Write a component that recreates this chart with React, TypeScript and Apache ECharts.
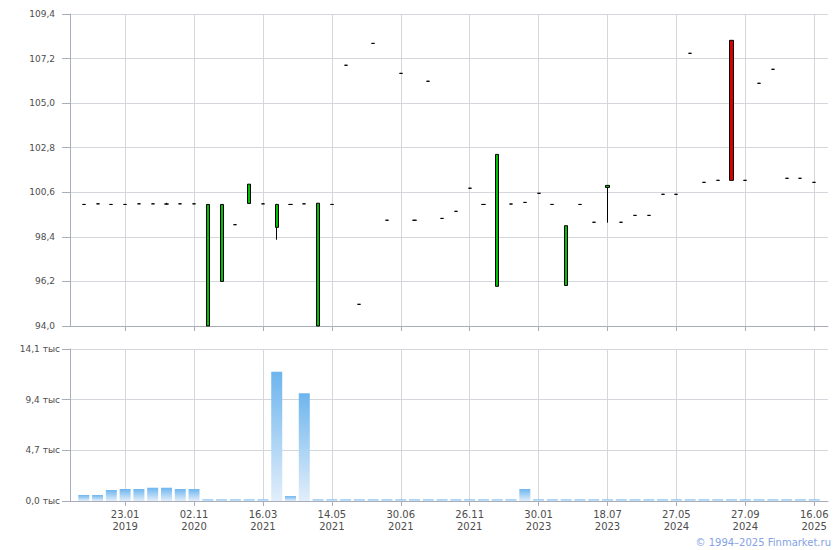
import React, { useEffect, useRef } from 'react';
import * as echarts from 'echarts';

// Tick labels on the date axis (placed every 5th slot, starting with slot 4)
const tickLabels = [
  '23.01\n2019', '02.11\n2020', '16.03\n2021', '14.05\n2021', '30.06\n2021',
  '26.11\n2021', '30.01\n2023', '18.07\n2023', '27.05\n2024', '27.09\n2024', '16.06\n2025',
];

// Price candles (54 periods)
const openP = [
  100.0, 100.03, 100.0, 100.0, 100.03, 100.03, 100.02, 100.03, 100.03, 94.0,
  96.2, 99.0, 100.05, 100.03, 98.87, 100.0, 100.03, 94.0, 100.0, 106.87,
  95.07, 107.95, 99.22, 106.47, 99.22, 106.08, 99.31, 99.66, 100.8, 100.0,
  95.96, 100.02, 100.1, 100.55, 100.0, 96.0, 100.0, 99.12, 100.84, 99.12,
  99.46, 99.46, 100.5, 100.5, 107.46, 101.09, 101.19, 108.1, 101.19, 105.98,
  106.67, 101.29, 101.29, 101.09,
];
const closeP = [
  100.0, 100.03, 100.0, 100.0, 100.03, 100.03, 100.02, 100.03, 100.03, 100.0,
  100.0, 99.0, 101.0, 100.03, 100.0, 100.0, 100.03, 100.06, 100.0, 106.87,
  95.07, 107.95, 99.22, 106.47, 99.22, 106.08, 99.31, 99.66, 100.8, 100.0,
  102.47, 100.02, 100.1, 100.55, 100.0, 98.95, 100.0, 99.12, 100.94, 99.12,
  99.46, 99.46, 100.5, 100.5, 107.46, 101.09, 101.19, 101.19, 101.19, 105.98,
  106.67, 101.29, 101.29, 101.09,
];
const lowP = [
  100.0, 100.03, 100.0, 100.0, 100.03, 100.03, 100.0, 100.03, 100.03, 94.0,
  96.2, 99.0, 100.05, 100.03, 98.26, 100.0, 100.03, 94.0, 100.0, 106.87,
  95.07, 107.95, 99.22, 106.47, 99.22, 106.08, 99.31, 99.66, 100.8, 100.0,
  95.96, 100.02, 100.1, 100.55, 100.0, 96.0, 100.0, 99.12, 99.1, 99.12,
  99.46, 99.46, 100.5, 100.5, 107.46, 101.09, 101.19, 101.19, 101.19, 105.98,
  106.67, 101.29, 101.29, 101.09,
];
const highP = [
  100.0, 100.03, 100.0, 100.0, 100.03, 100.03, 100.08, 100.03, 100.03, 100.0,
  100.0, 99.0, 101.0, 100.03, 100.03, 100.0, 100.03, 100.06, 100.0, 106.87,
  95.07, 107.95, 99.22, 106.47, 99.22, 106.08, 99.31, 99.66, 100.8, 100.0,
  102.47, 100.02, 100.1, 100.55, 100.0, 98.95, 100.0, 99.12, 100.94, 99.12,
  99.46, 99.46, 100.5, 100.5, 107.46, 101.09, 101.19, 108.1, 101.19, 105.98,
  106.67, 101.29, 101.29, 101.09,
];

// Volume, thousands
const volume = [
  0.56, 0.56, 1.02, 1.11, 1.11, 1.23, 1.23, 1.11, 1.11, 0.15,
  0.15, 0.15, 0.15, 0.15, 12.0, 0.46, 10.0, 0.15, 0.15, 0.15,
  0.15, 0.15, 0.15, 0.15, 0.15, 0.15, 0.15, 0.15, 0.15, 0.15,
  0.15, 0.15, 1.11, 0.15, 0.15, 0.15, 0.15, 0.15, 0.15, 0.15,
  0.15, 0.15, 0.15, 0.15, 0.15, 0.15, 0.15, 0.15, 0.15, 0.15,
  0.15, 0.15, 0.15, 0.15,
];

const PRICE_MIN = 94.0;
const PRICE_MAX = 109.4;
const PRICE_STEP = 2.2;
const VOL_MAX = 14.1;
const VOL_STEP = 4.7;

export default function App() {
  const ref = useRef<HTMLDivElement>(null);

  useEffect(() => {
    if (!ref.current) return;
    const chart = echarts.init(ref.current, null, { renderer: 'svg' });

    const slots = openP.length + 2;
    const categories: string[] = [];
    for (let i = 0; i < slots; i++) {
      categories.push(i % 5 === 4 ? tickLabels[(i - 4) / 5] ?? '' : '');
    }
    const isTick = (i: number) => i % 5 === 4;

    const empty = ['-', '-', '-', '-'];
    const candleData: any[] = [empty];
    openP.forEach((o, i) => {
      candleData.push([
        o - PRICE_MIN,
        closeP[i] - PRICE_MIN,
        lowP[i] - PRICE_MIN,
        highP[i] - PRICE_MIN,
      ]);
    });
    candleData.push(empty);

    const volData: any[] = ['-', ...volume, '-'];

    const axisColor = '#a9adb9';
    const gridColor = '#d3d7db';
    const labelColor = '#4d4d4d';
    const font = '"DejaVu Sans", Verdana, sans-serif';

    const fmt = (v: number) => v.toFixed(1).replace('.', ',');

    chart.setOption({
      animation: false,
      grid: [
        { left: 70, right: 12, top: 14, height: 312 },
        { left: 70, right: 12, top: 349, height: 152 },
      ],
      xAxis: [
        {
          type: 'category',
          gridIndex: 0,
          data: categories,
          boundaryGap: false,
          axisLine: { lineStyle: { color: axisColor } },
          axisTick: { show: true, length: 5, interval: (i: number) => isTick(i), lineStyle: { color: axisColor } },
          axisLabel: { show: false },
          splitLine: { show: true, interval: (i: number) => isTick(i), lineStyle: { color: gridColor } },
        },
        {
          type: 'category',
          gridIndex: 1,
          data: categories,
          boundaryGap: false,
          axisLine: { lineStyle: { color: axisColor } },
          axisTick: { show: true, length: 5, interval: (i: number) => isTick(i), lineStyle: { color: axisColor } },
          axisLabel: {
            show: true,
            interval: (i: number) => isTick(i),
            color: labelColor,
            fontFamily: font,
            fontSize: 10,
            lineHeight: 12,
            margin: 7,
          },
          splitLine: { show: true, interval: (i: number) => isTick(i), lineStyle: { color: gridColor } },
        },
      ],
      yAxis: [
        {
          type: 'value',
          gridIndex: 0,
          min: 0,
          max: PRICE_MAX - PRICE_MIN,
          interval: PRICE_STEP,
          axisLine: { show: true, lineStyle: { color: axisColor } },
          axisTick: { show: true, length: 8, lineStyle: { color: axisColor } },
          axisLabel: {
            color: labelColor,
            fontFamily: font,
            fontSize: 9,
            margin: 15,
            formatter: (v: number) => fmt(v + PRICE_MIN),
          },
          splitLine: { show: true, lineStyle: { color: gridColor } },
        },
        {
          type: 'value',
          gridIndex: 1,
          min: 0,
          max: VOL_MAX,
          interval: VOL_STEP,
          axisLine: { show: true, lineStyle: { color: axisColor } },
          axisTick: { show: true, length: 8, lineStyle: { color: axisColor } },
          axisLabel: {
            color: labelColor,
            fontFamily: font,
            fontSize: 9,
            margin: 10,
            formatter: (v: number) => fmt(v) + ' тыс',
          },
          splitLine: { show: true, lineStyle: { color: gridColor } },
        },
      ],
      series: [
        {
          type: 'candlestick',
          xAxisIndex: 0,
          yAxisIndex: 0,
          data: candleData,
          barWidth: 3.6,
          itemStyle: {
            color: '#00c000',
            color0: '#d40000',
            borderColor: '#000000',
            borderColor0: '#000000',
            borderWidth: 1,
          },
        },
        {
          type: 'bar',
          xAxisIndex: 1,
          yAxisIndex: 1,
          data: volData,
          barWidth: 11,
          itemStyle: {
            color: new echarts.graphic.LinearGradient(0, 0, 0, 1, [
              { offset: 0, color: '#6db5ee' },
              { offset: 1, color: '#e2eefa' },
            ]),
          },
        },
      ],
      graphic: [
        {
          type: 'text',
          right: 9,
          top: 537,
          style: {
            text: '© 1994–2025 Finmarket.ru',
            fill: '#84a2e4',
            font: '10px "DejaVu Sans", Verdana, sans-serif',
          },
        },
      ],
    });

    return () => chart.dispose();
  }, []);

  return (
    <div
      ref={ref}
      style={{ position: 'fixed', left: 0, top: 0, width: 840, height: 550, background: '#ffffff' }}
    />
  );
}
